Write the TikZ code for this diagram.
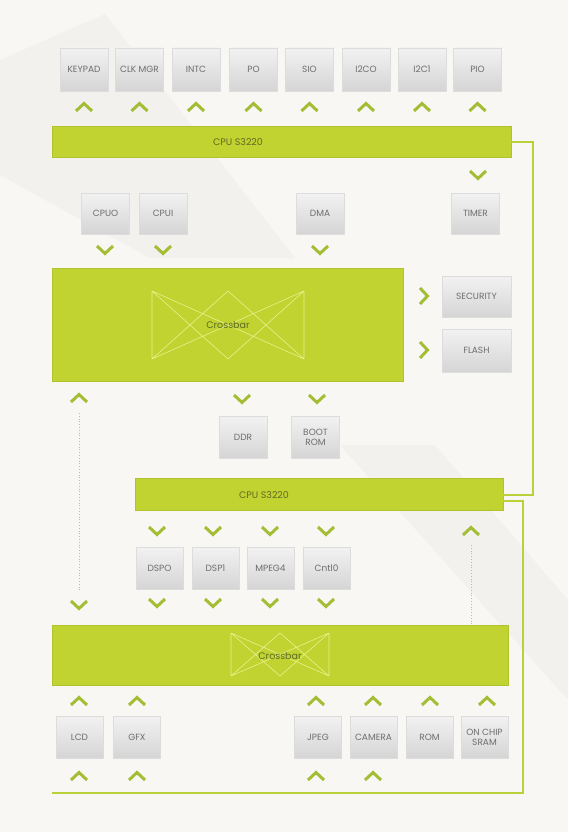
\documentclass[tikz,border=0pt]{standalone}
\usepackage{fontspec}
\setmainfont{Poppins}
\begin{document}
\begin{tikzpicture}[x=1pt,y=-1pt,
  box/.style={rectangle,inner sep=0pt,top color=boxtop,bottom color=boxbot,draw=boxline,line width=0.5pt,
    text=boxtext,font=\fontsize{9}{10}\selectfont,align=center,minimum width=48pt,minimum height=42pt},
  bar/.style={rectangle,inner sep=0pt,fill=lime,draw=limedark,line width=0.6pt},
  bartext/.style={text=olive,font=\fontsize{9.5}{10}\selectfont,inner sep=0pt},
  chev/.style={draw=chevc,line width=3pt,line cap=butt,line join=miter},
  xline/.style={draw=xlinec,line width=0.6pt},
  link/.style={draw=linkc,line width=1.8pt},
  dots/.style={draw=gray!55,line width=0.8pt,dotted}]
\definecolor{bg}{HTML}{F8F7F4}
\definecolor{bgtri}{HTML}{F2F1EE}
\definecolor{boxtop}{HTML}{F2F2F2}
\definecolor{boxbot}{HTML}{D5D5D5}
\definecolor{boxline}{HTML}{DCDCDC}
\definecolor{boxtext}{HTML}{6E6E6E}
\definecolor{lime}{HTML}{C1D331}
\definecolor{limedark}{HTML}{B0C22C}
\definecolor{olive}{HTML}{5E6B22}
\definecolor{chevc}{HTML}{A3BE35}
\definecolor{xlinec}{HTML}{E9F08C}
\definecolor{linkc}{HTML}{BCD03A}
\newcommand{\chup}[2]{\draw[chev] (#1-8,#2+4) -- (#1,#2-3.5) -- (#1+8,#2+4);}
\newcommand{\chdn}[2]{\draw[chev] (#1-8,#2-4) -- (#1,#2+3.5) -- (#1+8,#2-4);}
\newcommand{\chrt}[2]{\draw[chev] (#1-4,#2-8) -- (#1+3.5,#2) -- (#1-4,#2+8);}
% background
\useasboundingbox (0,0) rectangle (568,832);
\fill[bg] (0,0) rectangle (568,832);
\fill[bgtri] (0,60) -- (105,14) -- (295,258) -- (150,258) -- (0,175) -- cycle;
\fill[bgtri] (340,445) -- (435,445) -- (568,600) -- (568,700) -- cycle;
% top row
\foreach \n/\t/\x in {kp/KEYPAD/84,clk/CLK MGR/139.5,intc/INTC/196,po/PO/253.5,sio/SIO/309.5,iico/I2CO/366,iici/I2C1/422,pio/PIO/477.5}{
  \node[box,minimum height=43pt] (\n) at (\x,69.5) {\t};
  \chup{\x}{107}
}
% CPU bar 1
\node[bar,minimum width=459pt,minimum height=31pt] (bar1) at (281.5,141.5) {};
\node[bartext] (bar1t) at (238,142) {CPU S3220};
% timer
\chdn{478}{175}
\node[box,minimum height=41pt] (timer) at (475.5,213.5) {TIMER};
\node[box,minimum height=41pt] (cpu0) at (105.5,213.5) {CPUO};
\node[box,minimum height=41pt] (cpu1) at (163,213.5) {CPUI};
\node[box,minimum height=41pt] (dma) at (320,213.5) {DMA};
\chdn{105}{250}\chdn{163}{250}\chdn{320}{250}
% crossbar 1
\node[bar,minimum width=351pt,minimum height=113pt] (xb1) at (227.5,324.5) {};
\draw[xline] (152,291) -- (152,359) (304,291) -- (304,359)
  (152,291) -- (304,359) (152,359) -- (304,291)
  (152,291) -- (228,359) -- (304,291)
  (152,359) -- (228,291) -- (304,359);
\node[bartext] (xb1t) at (228,325) {Crossbar};
% security / flash
\node[box,minimum width=69pt,minimum height=41pt] (sec) at (476.5,296.5) {SECURITY};
\node[box,minimum width=69pt,minimum height=43pt] (flash) at (476.5,350.5) {FLASH};
\chrt{424}{296}\chrt{424}{350}
% left dotted
\chup{79}{398}
\coordinate (d1a) at (79,413);
\coordinate (d1b) at (79,592);
\draw[dots] (d1a) -- (d1b);
\chdn{79}{605}
% DDR / BOOT ROM
\chdn{242}{399}\chdn{317}{399}
\node[box] (ddr) at (243,437) {DDR};
\node[box] (boot) at (315.5,437) {BOOT\\ROM};
% CPU bar 2
\node[bar,minimum width=368pt,minimum height=32pt] (bar2) at (319,494) {};
\node[bartext] (bar2t) at (264,495) {CPU S3220};
% right links
\coordinate (r1a) at (533,142);
\coordinate (r1b) at (533,495);
\draw[link] (bar1.east |- r1a) -- (r1a) -- (r1b) -- (bar2.east |- r1b);
\coordinate (r2a) at (523,501);
\coordinate (r2b) at (523,793);
\coordinate (r2c) at (52,793);
\draw[link] (bar2.east |- r2a) -- (r2a) -- (r2b) -- (r2c);
% DSP row
\foreach \n/\t/\x/\c in {dsp0/DSPO/159.5/157,dsp1/DSP1/215.5/213,mpeg/MPEG4/270.5/270,cntl/Cntl0/326.5/326}{
  \chdn{\c}{531}
  \node[box,minimum width=47pt] (\n) at (\x,568) {\t};
  \chdn{\c}{603}
}
% right dotted
\chup{471}{531}
\coordinate (d2a) at (471,545);
\coordinate (d2b) at (471,624);
\draw[dots] (d2a) -- (d2b);
% crossbar 2
\node[bar,minimum width=456pt,minimum height=60pt] (xb2) at (280,655) {};
\draw[xline] (231,633) -- (231,676) (329,633) -- (329,676)
  (231,633) -- (329,676) (231,676) -- (329,633)
  (231,633) -- (280,676) -- (329,633)
  (231,676) -- (280,633) -- (329,676);
\node[bartext] (xb2t) at (280,656) {Crossbar};
% bottom row
\foreach \n/\t/\x/\c in {lcd/LCD/79.5/79,gfx/GFX/137/137,jpeg/JPEG/318/316,cam/CAMERA/373.5/373,rom/ROM/429.5/430,sram/ON CHIP\\SRAM/484.5/487}{
  \chup{\c}{701}
  \node[box,minimum width=47pt] (\n) at (\x,737) {\t};
}
\chup{79}{776}\chup{137}{776}\chup{316}{776}\chup{373}{776}
\end{tikzpicture}
\end{document}
